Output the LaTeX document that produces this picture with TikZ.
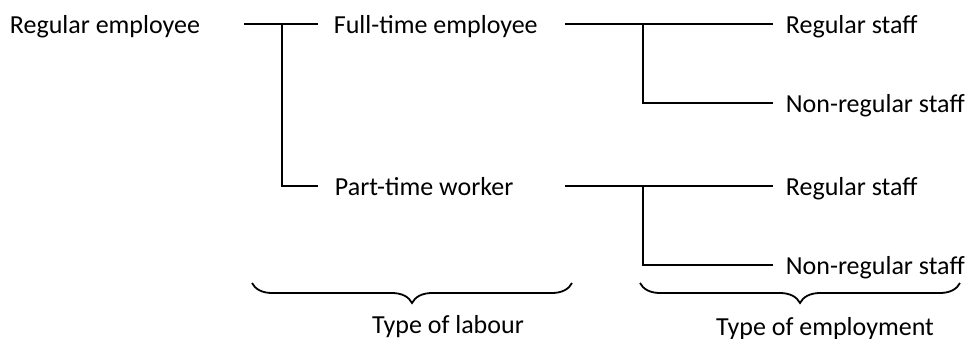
\documentclass[tikz,border=0pt]{standalone}
\usepackage{fontspec}
\setmainfont{Carlito}
\usepackage{tikz}
\usetikzlibrary{decorations.pathreplacing}

\begin{document}
\begin{tikzpicture}[x=0.5pt,y=-0.5pt,line width=0.9pt,
  lbl/.style={anchor=base west,inner sep=0pt,font=\fontsize{13}{15}\selectfont},
  caplbl/.style={anchor=base,inner sep=0pt,font=\fontsize{13}{15}\selectfont},
  brc/.style={decorate,decoration={brace,mirror,amplitude=10pt}}]
\useasboundingbox(0,0)rectangle(976,338);
\node[lbl](re)at(9,33){Regular employee};
\node[lbl](ft)at(333,33){Full-time employee};
\node[lbl](pt)at(334,195){Part-time worker};
\node[lbl](rs1)at(785,33){Regular staff};
\node[lbl](ns1)at(785,112){Non-regular staff};
\node[lbl](rs2)at(785,195){Regular staff};
\node[lbl](ns2)at(785,274){Non-regular staff};
\coordinate(s0)at(244,24);\coordinate(j0)at(282,24);\coordinate(e0)at(318,24);\coordinate(e1)at(318,186);
\coordinate(s1)at(565,24);\coordinate(j1)at(643,24);\coordinate(e2)at(773,24);\coordinate(e3)at(773,103);
\coordinate(s2)at(565,186);\coordinate(j2)at(643,186);\coordinate(e4)at(773,186);\coordinate(e5)at(773,265);
\draw(s0)--(e0);\draw(j0)|-(e1);
\draw(s1)--(e2);\draw(j1)|-(e3);
\draw(s2)--(e4);\draw(j2)|-(e5);
% braces under the columns
\coordinate(b0)at(252,283);\coordinate(b1)at(572,283);
\coordinate(b2)at(640,283);\coordinate(b3)at(960,283);
\draw[brc](b0)--(b1);\draw[brc](b2)--(b3);
\node[caplbl](tl)at(448,333){Type of labour};
\node[caplbl](te)at(825,335){Type of employment};
\end{tikzpicture}
\end{document}
